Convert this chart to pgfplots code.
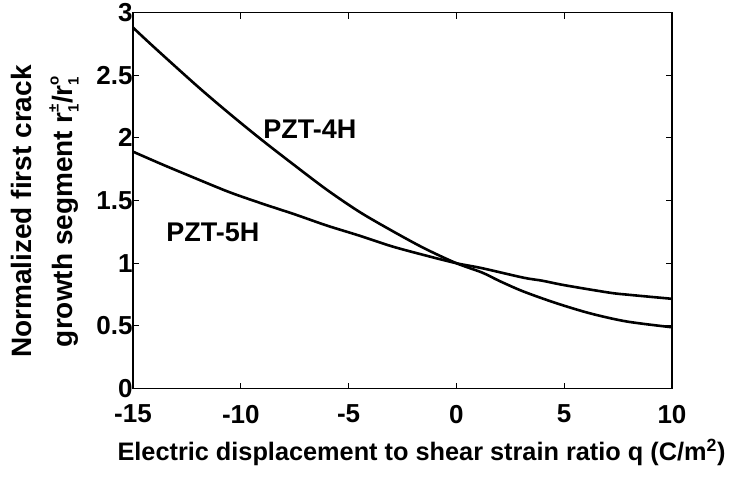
\documentclass[border=0pt]{standalone}
\usepackage{pgfplots}
\pgfplotsset{compat=1.18}
\usepackage{fontspec}
\setmainfont{Liberation Sans}

\newcommand{\rsub}[1]{r\rlap{\raisebox{-0.22em}{\fontsize{15}{15}\selectfont 1}}\raisebox{0.5em}{\fontsize{15}{15}\selectfont #1}}

\begin{document}
\begin{tikzpicture}
\begin{axis}[
    name=ax,
    scale only axis,
    width=539pt, height=376pt,
    xmin=-15, xmax=10, ymin=0, ymax=3,
    xtick={-15,-10,...,10},
    ytick={0,0.5,...,3},
    tick align=inside,
    major tick length=6pt,
    axis line style={line width=1.5pt},
    every tick/.style={line width=1.2pt, black},
    /pgf/number format/assume math mode=true,
    ticklabel style={font=\fontsize{26}{28}\selectfont\bfseries},
    yticklabel style={xshift=3pt},
    xticklabel style={yshift=-13pt},
    clip=false,
]
% PZT-4H
\addplot[black, line width=2.6pt, smooth, tension=0.5] coordinates {
 (-15,2.88) (-14,2.72) (-12,2.41) (-10.5,2.19) (-9,1.98) (-7.5,1.78)
 (-6,1.585) (-4.5,1.41) (-3,1.26) (-1.5,1.12) (0,1.0) (1.2,0.925)
 (2,0.858) (3.1,0.775) (4.6,0.683) (6.2,0.60) (7.9,0.535) (10,0.489)
};
% PZT-5H
\addplot[black, line width=2.6pt, smooth, tension=0.5] coordinates {
 (-15,1.89) (-13.6,1.785) (-12,1.67) (-10.5,1.565) (-9,1.475) (-7.5,1.39)
 (-6,1.30) (-4.5,1.22) (-3,1.135) (-1.5,1.065) (0,1.0) (1.2,0.96)
 (3.1,0.885) (4,0.86) (5,0.825) (7.1,0.765) (8,0.748) (10,0.716)
};
\node[font=\fontsize{27}{30}\selectfont\bfseries] at (axis cs:-6.8,2.07) {PZT-4H};
\node[font=\fontsize{27}{30}\selectfont\bfseries] at (axis cs:-11.3,1.25) {PZT-5H};
\end{axis}
% axis titles
\node[font=\fontsize{25.3}{28}\selectfont\bfseries, anchor=base]
  at ([xshift=19pt,yshift=-72pt]ax.south)
  {Electric displacement to shear strain ratio q (C/m\textsuperscript{2})};
\node[font=\fontsize{28}{41}\selectfont\bfseries, rotate=90, align=center]
  at ([xshift=-88pt,yshift=-11pt]ax.west)
  {Normalized first crack\\growth segment \rsub{±}/\rsub{o}};
% page frame
\path ([shift={(-133pt,-88pt)}]ax.south west) rectangle ++(734pt,475pt);
\end{tikzpicture}
\end{document}
